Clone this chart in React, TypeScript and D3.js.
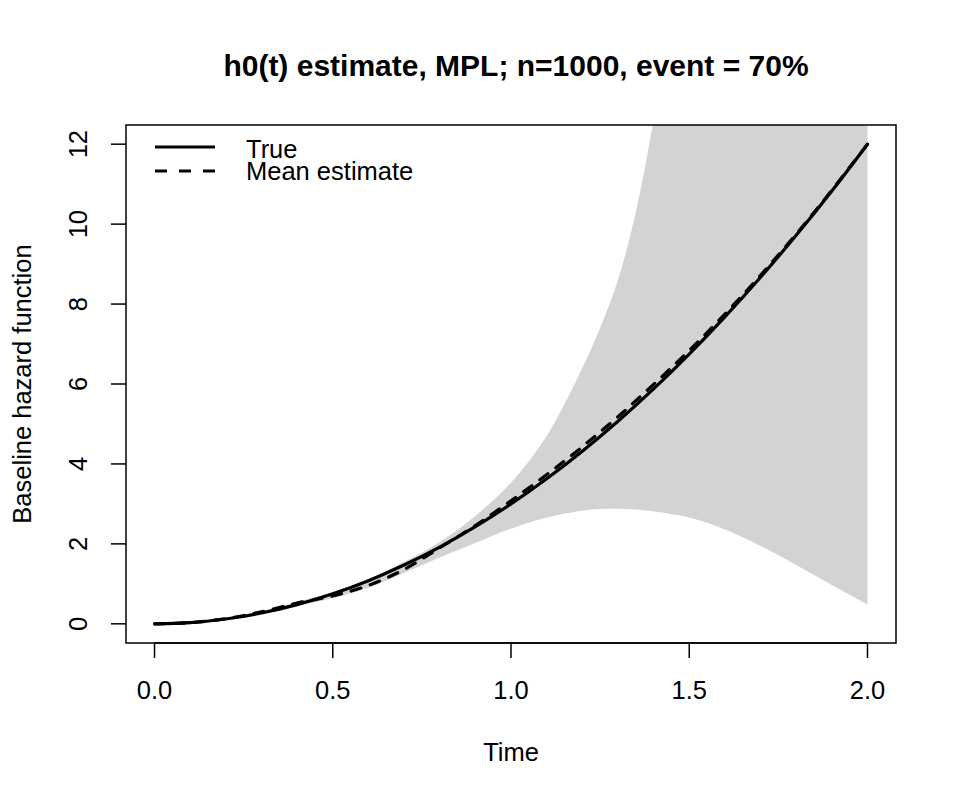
import React from "react";
import * as d3 from "d3";

// values
const lineTime = [0, 0.1, 0.2, 0.3, 0.4, 0.5, 0.6, 0.7, 0.8, 0.9, 1.0, 1.1, 1.2, 1.3, 1.4, 1.5, 1.6, 1.7, 1.8, 1.9, 2.0];
const trueHazard = [0, 0.03, 0.12, 0.27, 0.48, 0.75, 1.08, 1.47, 1.92, 2.43, 3.0, 3.63, 4.32, 5.07, 5.88, 6.75, 7.68, 8.67, 9.72, 10.83, 12.0];
const meanEstimate = [0, 0.03, 0.13, 0.3, 0.52, 0.7, 0.96, 1.36, 1.9, 2.46, 3.08, 3.73, 4.43, 5.18, 5.99, 6.84, 7.75, 8.72, 9.75, 10.85, 12.0];

const bandTime = [0, 0.1, 0.2, 0.3, 0.4, 0.5, 0.6, 0.7, 0.8, 0.9, 1.0, 1.1, 1.2, 1.25, 1.3, 1.35, 1.4, 1.5, 1.6, 1.7, 1.8, 1.9, 2.0];
const bandUpper = [0, 0.04, 0.13, 0.32, 0.56, 0.78, 1.1, 1.55, 2.05, 2.7, 3.53, 4.7, 6.4, 7.4, 8.6, 10.3, 12.6, 18, 25, 33, 42, 52, 63];
const bandLower = [0, 0.02, 0.1, 0.25, 0.45, 0.64, 0.9, 1.27, 1.66, 2.02, 2.38, 2.66, 2.83, 2.87, 2.88, 2.86, 2.81, 2.66, 2.36, 1.95, 1.47, 0.97, 0.48];

const xTicks = [0, 0.5, 1.0, 1.5, 2.0];
const yTicks = [0, 2, 4, 6, 8, 10, 12];

const W = 960;
const H = 800;
const plot = { left: 126, right: 896, top: 125, bottom: 643 };
const font = "Liberation Sans, Arial, Helvetica, sans-serif";
const fs = 25.5;

export default function App() {
  // R pads the axis range by 4% on each side
  const x = d3.scaleLinear().domain([-0.08, 2.08]).range([plot.left, plot.right]);
  const y = d3.scaleLinear().domain([-0.48, 12.48]).range([plot.bottom, plot.top]);

  const band = d3
    .area<number>()
    .x((_, i) => x(bandTime[i]))
    .y0((_, i) => y(bandLower[i]))
    .y1((d) => y(d))
    .curve(d3.curveCatmullRom.alpha(0.5));

  const line = d3
    .line<number>()
    .x((_, i) => x(lineTime[i]))
    .y((d) => y(d))
    .curve(d3.curveCatmullRom.alpha(0.5));

  return (
    <svg width={W} height={H} style={{ display: "block", margin: "-8px", background: "#fff" }}>
      <defs>
        <clipPath id="plotClip">
          <rect x={plot.left} y={plot.top} width={plot.right - plot.left} height={plot.bottom - plot.top} />
        </clipPath>
      </defs>

      <g clipPath="url(#plotClip)">
        <path d={band(bandUpper) ?? ""} fill="#d3d3d3" />
        <path d={line(trueHazard) ?? ""} fill="none" stroke="#000" strokeWidth={3.2} strokeLinecap="round" />
        <path
          d={line(meanEstimate) ?? ""}
          fill="none"
          stroke="#000"
          strokeWidth={3.2}
          strokeDasharray="10,10"
          strokeLinecap="round"
        />
      </g>

      <rect
        x={plot.left}
        y={plot.top}
        width={plot.right - plot.left}
        height={plot.bottom - plot.top}
        fill="none"
        stroke="#000"
        strokeWidth={1.5}
      />

      {/* x axis */}
      <line x1={x(0)} x2={x(2)} y1={plot.bottom} y2={plot.bottom} stroke="#000" strokeWidth={1.5} />
      {xTicks.map((t) => (
        <g key={t}>
          <line x1={x(t)} x2={x(t)} y1={plot.bottom} y2={plot.bottom + 15} stroke="#000" strokeWidth={1.5} />
          <text x={x(t)} y={plot.bottom + 56} textAnchor="middle" fontFamily={font} fontSize={fs}>
            {t.toFixed(1)}
          </text>
        </g>
      ))}

      {/* y axis */}
      {yTicks.map((v) => (
        <g key={v}>
          <line x1={plot.left - 15} x2={plot.left} y1={y(v)} y2={y(v)} stroke="#000" strokeWidth={1.5} />
          <text
            transform={`translate(${plot.left - 39},${y(v)}) rotate(-90)`}
            textAnchor="middle"
            fontFamily={font}
            fontSize={fs}
          >
            {v}
          </text>
        </g>
      ))}

      <text x={(plot.left + plot.right) / 2} y={761} textAnchor="middle" fontFamily={font} fontSize={fs}>
        Time
      </text>
      <text
        transform={`translate(31,${(plot.top + plot.bottom) / 2}) rotate(-90)`}
        textAnchor="middle"
        fontFamily={font}
        fontSize={fs}
      >
        Baseline hazard function
      </text>
      <text x={516} y={76} textAnchor="middle" fontFamily={font} fontSize={30} fontWeight="bold">
        h0(t) estimate, MPL; n=1000, event = 70%
      </text>

      {/* legend */}
      <line x1={155} x2={215} y1={147} y2={147} stroke="#000" strokeWidth={3.2} />
      <line x1={155} x2={215} y1={171} y2={171} stroke="#000" strokeWidth={3.2} strokeDasharray="12,12" />
      <text x={246} y={158} fontFamily={font} fontSize={fs}>True</text>
      <text x={246} y={180} fontFamily={font} fontSize={fs}>Mean estimate</text>
    </svg>
  );
}
